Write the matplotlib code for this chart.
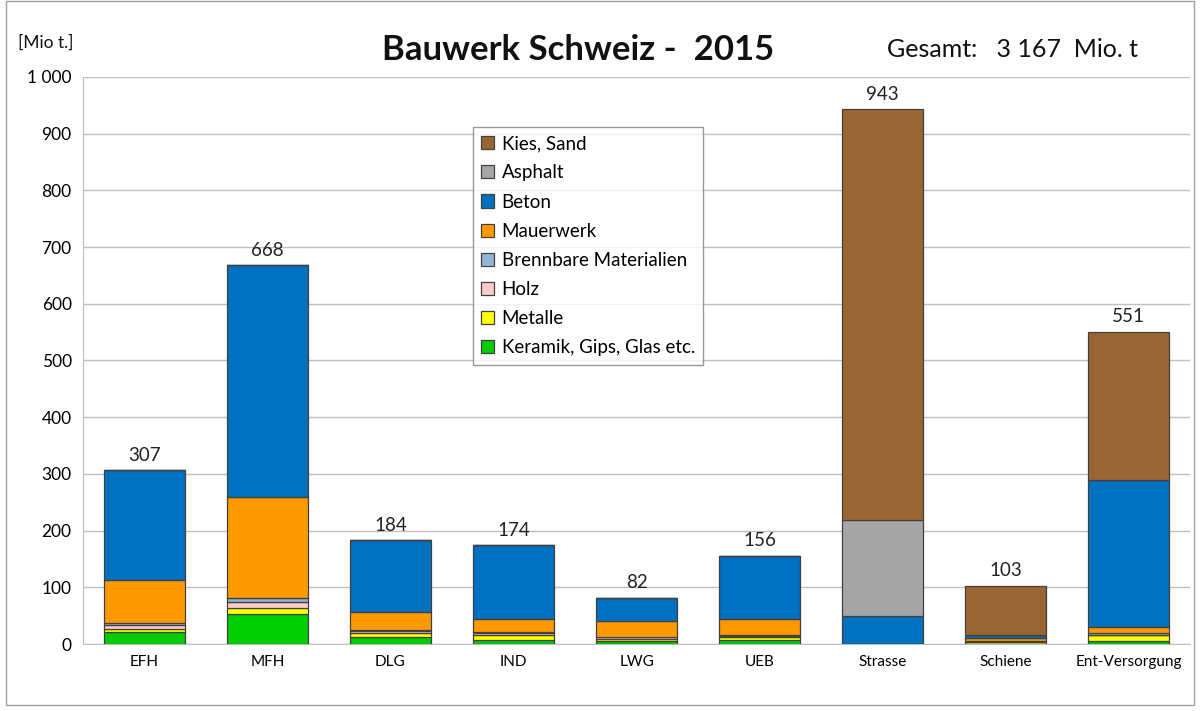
import matplotlib.pyplot as plt
import numpy as np
from matplotlib.patches import Rectangle

plt.rcParams['font.family'] = ['Lato', 'DejaVu Sans']

categories = ['EFH', 'MFH', 'DLG', 'IND', 'LWG', 'UEB', 'Strasse', 'Schiene', 'Ent-Versorgung']

# Mio t per material, stacked bottom to top
keramik = [21, 54, 12, 8, 5, 7, 0, 1, 6]
metalle = [5, 10, 8, 9, 4, 5, 0, 3, 10]
holz = [7, 11, 3, 3, 4, 2, 0, 0, 1]
brennbar = [4, 7, 2, 2, 0, 2, 0, 1, 3]
mauerwerk = [76, 177, 31, 22, 28, 28, 0, 5, 11]
beton = [194, 409, 128, 130, 41, 112, 50, 7, 258]
asphalt = [0, 0, 0, 0, 0, 0, 168, 0, 0]
kies = [0, 0, 0, 0, 0, 0, 725, 86, 262]

totals = [307, 668, 184, 174, 82, 156, 943, 103, 551]

series = [
    ('Keramik, Gips, Glas etc.', keramik, '#00CC00'),
    ('Metalle', metalle, '#FFFF00'),
    ('Holz', holz, '#FFCCCC'),
    ('Brennbare Materialien', brennbar, '#95B3D7'),
    ('Mauerwerk', mauerwerk, '#FF9900'),
    ('Beton', beton, '#0070C0'),
    ('Asphalt', asphalt, '#A6A6A6'),
    ('Kies, Sand', kies, '#996633'),
]

fig = plt.figure(figsize=(12, 7.11), dpi=100)
ax = fig.add_axes([0.069, 0.094, 0.923, 0.798])

x = np.arange(len(categories))
bottom = np.zeros(len(categories))
handles = []
for name, vals, col in series:
    b = ax.bar(x, vals, width=0.66, bottom=bottom, color=col,
               edgecolor='#404040', linewidth=0.9, label=name, zorder=3)
    handles.append(b)
    bottom += np.array(vals)

for xi, t in zip(x, totals):
    ax.text(xi, t + 11, str(t), ha='center', va='bottom', fontsize=13.5, color='#222222')

ax.set_xlim(-0.5, len(categories) - 0.5)
ax.set_ylim(0, 1000)
ax.set_yticks(np.arange(0, 1001, 100))
ax.set_yticklabels([f'{v:,}'.replace(',', ' ') for v in range(0, 1001, 100)], fontsize=12.5)
ax.set_xticks(x)
ax.set_xticklabels(categories, fontsize=11)
ax.tick_params(axis='both', length=0, pad=8)
ax.grid(axis='y', color='#BFBFBF', linewidth=1, zorder=0)
for s in ['top', 'right']:
    ax.spines[s].set_visible(False)
ax.spines['left'].set_color('#BFBFBF')
ax.spines['bottom'].set_color('#BFBFBF')
ax.spines['left'].set_zorder(1)

leg = ax.legend(handles[::-1], [s[0] for s in series[::-1]], loc='upper left',
                bbox_to_anchor=(0.352, 0.912), fontsize=13.5, frameon=True,
                fancybox=False, edgecolor='#808080', handlelength=0.7,
                handleheight=0.7, handletextpad=0.4, labelspacing=0.65,
                borderpad=0.45, borderaxespad=0)
leg.get_frame().set_linewidth(1)
leg.set_zorder(5)

fig.text(0.482, 0.93, 'Bauwerk Schweiz -  2015', ha='center', va='center',
         fontsize=25, fontweight='bold', color='#111111')
fig.text(0.739, 0.93, 'Gesamt:   3 167  Mio. t', ha='left', va='center',
         fontsize=18, color='#111111')
fig.text(0.015, 0.94, '[Mio t.]', ha='left', va='center', fontsize=12.5, color='#111111')

fig.patches.append(Rectangle((0.005, 0.008), 0.99, 0.99, transform=fig.transFigure,
                             fill=False, edgecolor='#A0A0A0', linewidth=1))

fig.savefig('out.png', dpi=100)
